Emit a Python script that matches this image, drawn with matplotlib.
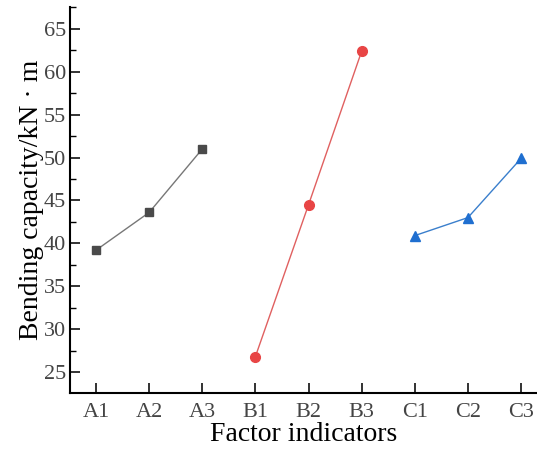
import matplotlib
matplotlib.use("Agg")
import matplotlib.pyplot as plt
from matplotlib.ticker import MultipleLocator

# ─── Datos ────────────────────────────────────────────────────────────────────
labels = ["A1", "A2", "A3", "B1", "B2", "B3", "C1", "C2", "C3"]
vals_a = [39.2, 43.6, 51.0]
vals_b = [26.8, 44.5, 62.4]
vals_c = [40.9, 43.0, 49.9]

plt.rcParams["font.family"] = ["Liberation Serif", "DejaVu Serif"]

fig = plt.figure(figsize=(5.37, 4.55), dpi=100)
ax = fig.add_axes([70 / 537, 1 - 393 / 455, 467 / 537, 386 / 455])

x = list(range(1, 10))
ax.plot(x[0:3], vals_a, color="#777777", lw=1.0, marker="s", ms=6,
        mfc="#4a4a4a", mec="#4a4a4a")
ax.plot(x[3:6], vals_b, color="#e06060", lw=1.0, marker="o", ms=7,
        mfc="#e84545", mec="#e84545")
ax.plot(x[6:9], vals_c, color="#3a7fcc", lw=1.0, marker="^", ms=7,
        mfc="#1f6fd0", mec="#1f6fd0")

ax.set_xlim(0.51, 9.3)
ax.set_ylim(22.55, 67.55)
ax.set_xticks(x)
ax.set_xticklabels(labels)
ax.yaxis.set_major_locator(MultipleLocator(5))
ax.yaxis.set_minor_locator(MultipleLocator(2.5))

for s in ["top", "right"]:
    ax.spines[s].set_visible(False)
for s in ["left", "bottom"]:
    ax.spines[s].set_linewidth(1.5)

ax.tick_params(axis="both", which="major", direction="in", length=7, width=1.3,
               colors="#222222", labelcolor="#444444")
ax.tick_params(axis="y", which="major", labelsize=16, pad=3)
ax.tick_params(axis="x", which="major", labelsize=16, pad=7)
ax.tick_params(axis="y", which="minor", direction="in", length=4, width=1.0)

ax.set_xlabel("Factor indicators", fontsize=20, labelpad=0)
ax.set_ylabel("Bending capacity/kN \u00b7 m", fontsize=20, labelpad=0)

fig.savefig("out.png", dpi=100)
